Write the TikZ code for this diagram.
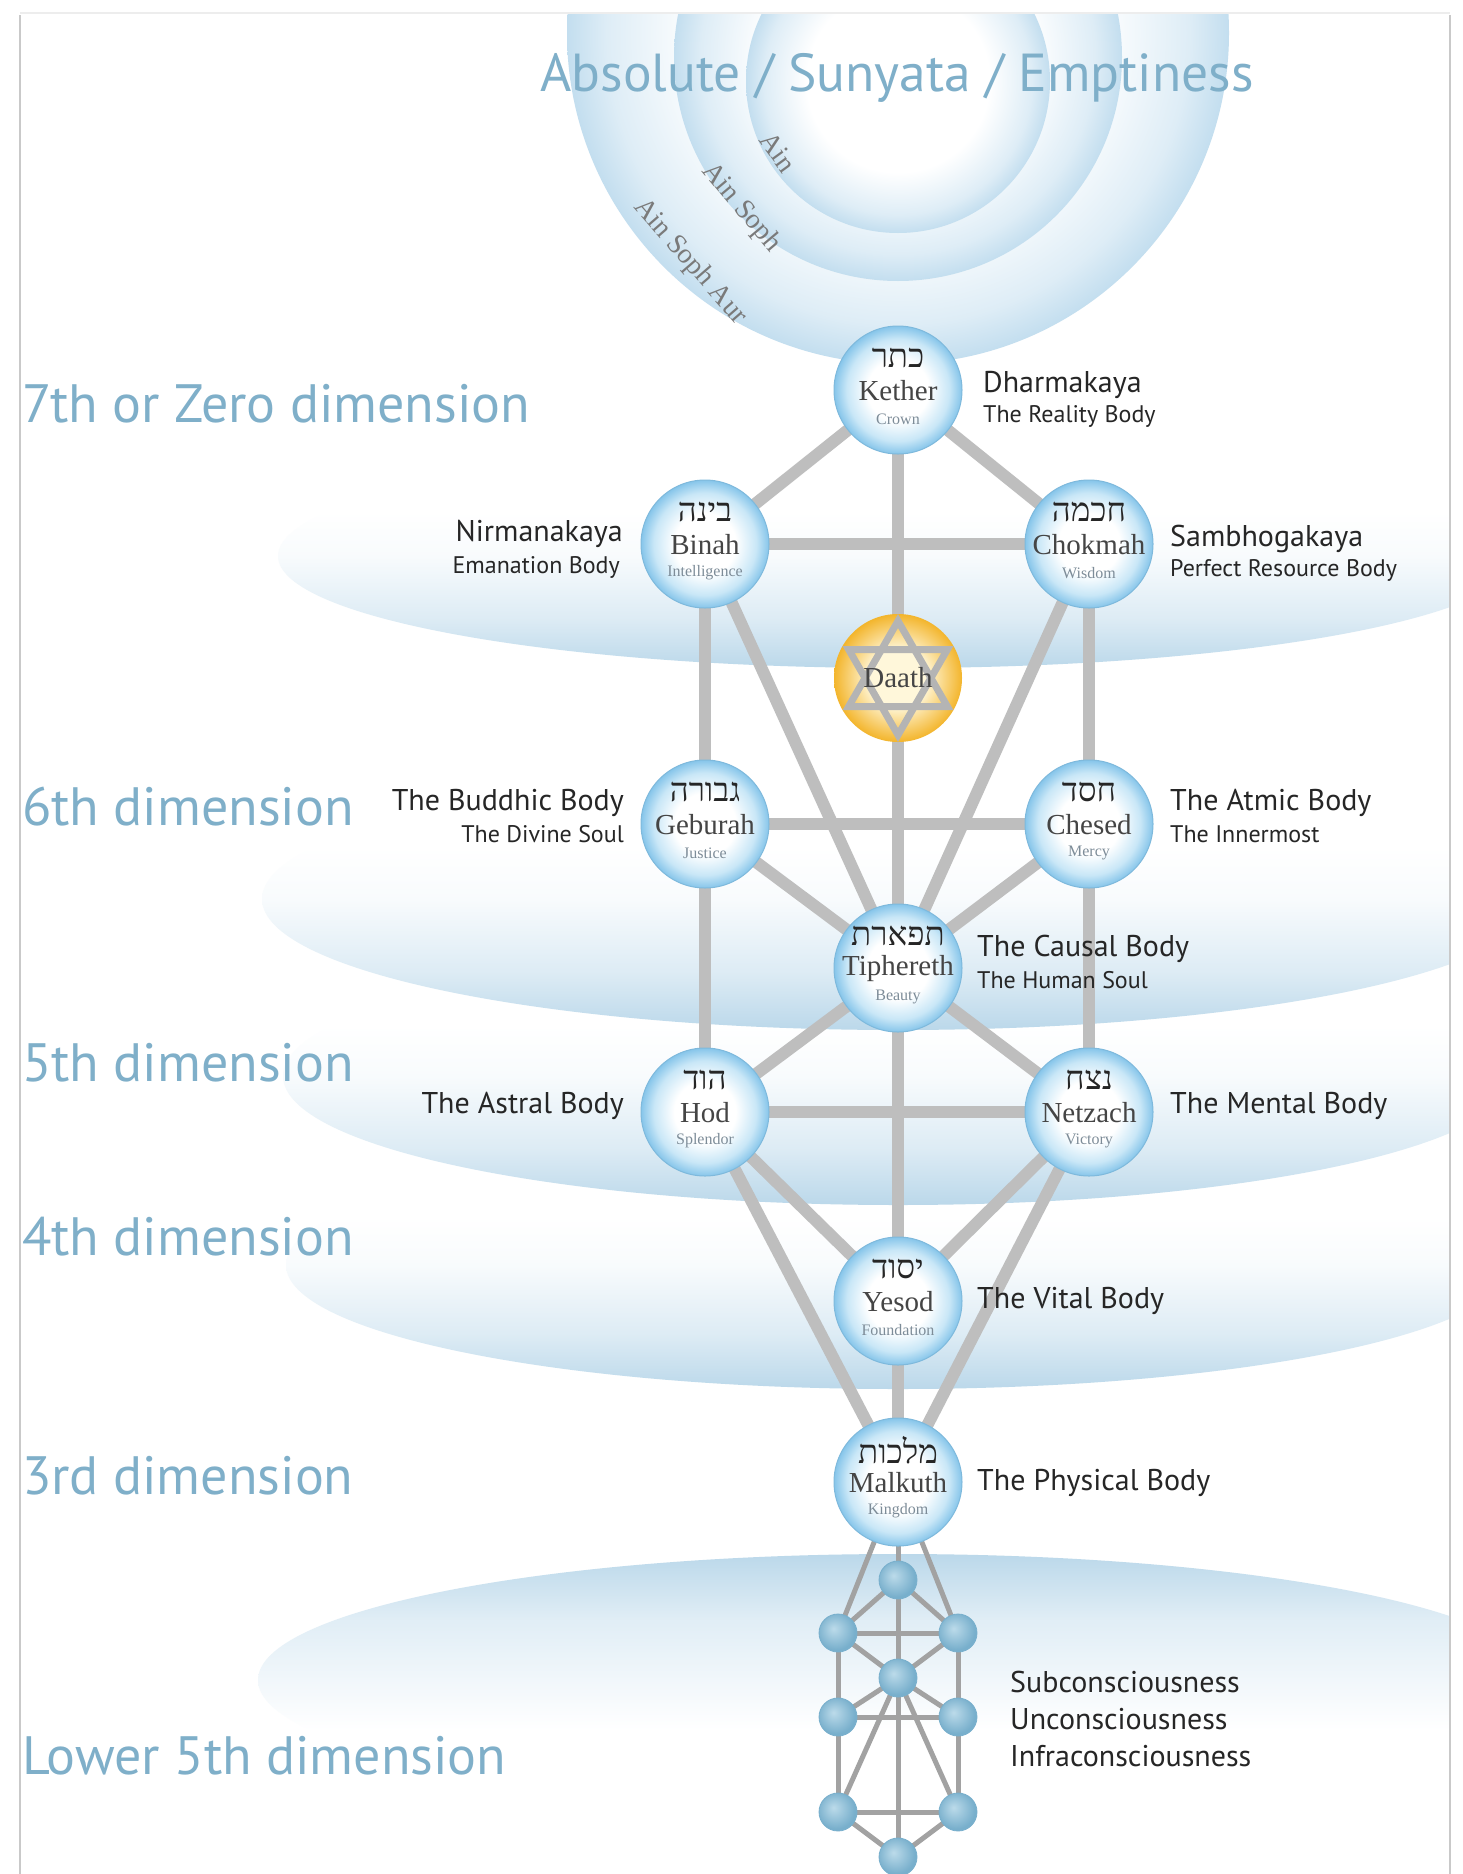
\documentclass[tikz,border=0pt]{standalone}
\usepackage{fontspec}
\setmainfont{Liberation Serif}
\newfontfamily\hebfont[Script=Hebrew]{Liberation Serif}
\newfontfamily\labfont{PT Sans}
\TeXXeTstate=1
\pgfdeclarelayer{bg}
\pgfdeclarelayer{lines}
\pgfsetlayers{bg,lines,main}
\definecolor{dimblue}{HTML}{7FAFC9}
\definecolor{pathgray}{HTML}{BEBEBE}
\definecolor{smallgray}{HTML}{A2A2A2}
\definecolor{sephrim}{HTML}{86C5EA}
\definecolor{sephmid}{HTML}{C9E7F7}
\definecolor{bandblue}{HTML}{BBD8EA}
\definecolor{circblue}{HTML}{C3DEEF}
\definecolor{goldout}{HTML}{F3B52C}
\definecolor{goldin}{HTML}{FFF7DA}
\definecolor{smallin}{HTML}{BCDBEA}
\definecolor{smallout}{HTML}{78AFCC}
\definecolor{textdark}{HTML}{262626}
\definecolor{namegray}{HTML}{454545}
\definecolor{subgray}{HTML}{7D8C98}
\definecolor{framegray}{HTML}{C9C9C9}
\definecolor{staredge}{HTML}{B4B4B4}
\definecolor{aingray}{HTML}{7A7A7A}
\pgfdeclareradialshading{sephshade}{\pgfpoint{0bp}{0bp}}{color(0bp)=(white); color(12bp)=(white); color(20bp)=(sephmid); color(25bp)=(sephrim); color(50bp)=(sephrim)}
\pgfdeclareradialshading{circshade}{\pgfpoint{0bp}{0bp}}{color(0bp)=(white); color(15bp)=(white); color(22bp)=(circblue!55!white); color(25bp)=(circblue); color(50bp)=(circblue)}
\pgfdeclareradialshading{daathshade}{\pgfpoint{0bp}{0bp}}{color(0bp)=(goldin); color(11bp)=(goldin); color(25bp)=(goldout); color(50bp)=(goldout)}
\pgfdeclareradialshading{smallshade}{\pgfpoint{-6bp}{6bp}}{color(0bp)=(smallin); color(25bp)=(smallout); color(50bp)=(smallout)}
\pgfdeclareverticalshading{bandshade}{100bp}{color(0bp)=(bandblue); color(25bp)=(bandblue); color(36bp)=(bandblue!50!white); color(50bp)=(bandblue!10!white); color(60bp)=(white); color(100bp)=(white)}
\pgfdeclareverticalshading{domeshade}{100bp}{color(0bp)=(white); color(40bp)=(white); color(62bp)=(bandblue!45!white); color(75bp)=(bandblue); color(100bp)=(bandblue)}
\tikzset{
  sephira/.style={circle, minimum size=128pt, inner sep=0pt, shade, shading=sephshade, draw=sephrim!90!black!60!sephrim, line width=1pt},
  daathnode/.style={circle, minimum size=128pt, inner sep=0pt, shade, shading=daathshade},
  smallnode/.style={circle, minimum size=38pt, inner sep=0pt, shade, shading=smallshade, draw=smallout, line width=0.8pt},
  hebtext/.style={inner sep=0pt, font=\hebfont\fontsize{33}{33}\selectfont, text=black!85},
  nametext/.style={inner sep=0pt, font=\fontsize{29}{29}\selectfont, text=namegray},
  subtext/.style={inner sep=0pt, font=\fontsize{16}{16}\selectfont, text=subgray},
  dimlabel/.style={inner sep=0pt, anchor=west, font=\labfont\fontsize{54}{60}\selectfont, text=dimblue},
  biglab/.style={inner sep=0pt, font=\labfont\fontsize{30}{31}\selectfont, text=textdark},
  smalllab/.style={inner sep=0pt, font=\labfont\fontsize{24}{25}\selectfont, text=textdark},
  ainlab/.style={inner sep=0pt, font=\fontsize{28}{28}\selectfont, text=aingray},
  treepath/.style={draw=pathgray, line width=12pt},
  minipath/.style={draw=smallgray, line width=5pt},
  starline/.style={draw=staredge, line width=7pt, line join=miter}
}
\newcommand\Sephira[6]{%
  \node[sephira] (#1) at (#2,-#3) {};
  \node[hebtext] (#1-heb) at ([yshift=32pt]#1.center) {\beginR #4\endR};
  \node[nametext] (#1-name) at ([yshift=-1pt]#1.center) {#5};
  \node[subtext] (#1-sub) at ([yshift=-29pt]#1.center) {#6};
}
\begin{document}
\begin{tikzpicture}[x=1pt,y=1pt]
\useasboundingbox (0,0) rectangle (1462,-1874);
\begin{pgfonlayer}{bg}
  \fill[white] (0,0) rectangle (1462,-1874);
  \begin{scope}
    \clip (20,-13) rectangle (1450,-1874);
    \shade[shading=domeshade] (898,-1680) ellipse [x radius=640, y radius=126];
    \shade[shading=bandshade] (898,-1265) ellipse [x radius=612, y radius=124];
    \shade[shading=bandshade] (898,-1076) ellipse [x radius=615, y radius=129];
    \shade[shading=bandshade] (898,-899) ellipse [x radius=636, y radius=131];
    \shade[shading=bandshade] (898,-556) ellipse [x radius=620, y radius=112];
    \shade[shading=circshade] (898,-33) circle [radius=331];
    \shade[shading=circshade] (898,-57) circle [radius=224];
    \shade[shading=circshade] (898,-81) circle [radius=152];
  \end{scope}
  \draw[framegray, line width=2pt] (20,-15) -- (20,-1874);
  \draw[framegray, line width=2pt] (1450,-15) -- (1450,-1874);
  \draw[black!7, line width=2pt] (20,-13) -- (1450,-13);
\end{pgfonlayer}

% titles and dimension labels
\node[inner sep=0pt, font=\labfont\fontsize{53.5}{60}\selectfont, text=dimblue] (absolute) at (897,-78) {Absolute / Sunyata / Emptiness};
\node[dimlabel] (dim7) at (22,-404) {7th or Zero dimension};
\node[dimlabel] (dim6) at (22,-807) {6th dimension};
\node[dimlabel] (dim5) at (22,-1063) {5th dimension};
\node[dimlabel] (dim4) at (22,-1237) {4th dimension};
\node[dimlabel] (dim3) at (22,-1476) {3rd dimension};
\node[dimlabel] (diml5) at (22,-1756) {Lower 5th dimension};

\node[ainlab, rotate=-54] (ain) at (778,-152) {Ain};
\node[ainlab, rotate=-50] (ainsoph) at (741,-208) {Ain Soph};
\node[ainlab, rotate=-49] (ainsophaur) at (690,-262) {Ain Soph Aur};

% sephirot
\Sephira{kether}{898}{390}{כתר}{Kether}{Crown}
\Sephira{binah}{705}{544}{בינה}{Binah}{Intelligence}
\Sephira{chokmah}{1089}{544}{חכמה}{Chokmah}{Wisdom}
\Sephira{geburah}{705}{824}{גבורה}{Geburah}{Justice}
\Sephira{chesed}{1089}{824}{חסד}{Chesed}{Mercy}
\Sephira{tiphereth}{898}{968}{תפארת}{Tiphereth}{Beauty}
\Sephira{hod}{705}{1112}{הוד}{Hod}{Splendor}
\Sephira{netzach}{1089}{1112}{נצח}{Netzach}{Victory}
\Sephira{yesod}{898}{1301}{יסוד}{Yesod}{Foundation}
\Sephira{malkuth}{898}{1482}{מלכות}{Malkuth}{Kingdom}

% Daath
\node[daathnode] (daath) at (898,-678) {};
\draw[starline] ([shift={(90:57)}]daath.center) -- ([shift={(210:57)}]daath.center) -- ([shift={(330:57)}]daath.center) -- cycle;
\draw[starline] ([shift={(270:57)}]daath.center) -- ([shift={(30:57)}]daath.center) -- ([shift={(150:57)}]daath.center) -- cycle;
\node[nametext] (daath-name) at (daath.center) {Daath};

% small tree
\node[smallnode] (st1) at (898,-1580) {};
\node[smallnode] (st2) at (838,-1633) {};
\node[smallnode] (st3) at (958,-1633) {};
\node[smallnode] (st4) at (898,-1678) {};
\node[smallnode] (st5) at (838,-1717) {};
\node[smallnode] (st6) at (958,-1717) {};
\node[smallnode] (st7) at (838,-1812) {};
\node[smallnode] (st8) at (958,-1812) {};
\node[smallnode] (st9) at (898,-1857) {};

% side labels
\node[biglab, anchor=west] (l1a) at (983,-385) {Dharmakaya};
\node[smalllab, anchor=west] (l1b) at (983,-416) {The Reality Body};
\node[biglab, anchor=east] (l2a) at (623,-534) {Nirmanakaya};
\node[smalllab, anchor=east] (l2b) at (620,-567) {Emanation Body};
\node[biglab, anchor=west] (l3a) at (1170,-539) {Sambhogakaya};
\node[smalllab, anchor=west] (l3b) at (1170,-570) {Perfect Resource Body};
\node[biglab, anchor=east] (l4a) at (624,-803) {The Buddhic Body};
\node[smalllab, anchor=east] (l4b) at (624,-834) {The Divine Soul};
\node[biglab, anchor=west] (l5a) at (1170,-803) {The Atmic Body};
\node[smalllab, anchor=west] (l5b) at (1170,-834) {The Innermost};
\node[biglab, anchor=west] (l6a) at (977,-949) {The Causal Body};
\node[smalllab, anchor=west] (l6b) at (977,-980) {The Human Soul};
\node[biglab, anchor=east] (l7) at (624,-1106) {The Astral Body};
\node[biglab, anchor=west] (l8) at (1170,-1106) {The Mental Body};
\node[biglab, anchor=west] (l9) at (977,-1301) {The Vital Body};
\node[biglab, anchor=west] (l10) at (977,-1483) {The Physical Body};
\node[biglab, anchor=west] (l11a) at (1010,-1682) {Subconsciousness};
\node[biglab, anchor=west] (l11b) at (1010,-1719) {Unconsciousness};
\node[biglab, anchor=west] (l11c) at (1010,-1756) {Infraconsciousness};

\begin{pgfonlayer}{lines}
  \foreach \a/\b in {kether/binah, kether/chokmah, kether/tiphereth, binah/chokmah, binah/geburah, binah/tiphereth, chokmah/chesed, chokmah/tiphereth, geburah/chesed, geburah/tiphereth, geburah/hod, chesed/tiphereth, chesed/netzach, tiphereth/hod, tiphereth/netzach, tiphereth/yesod, hod/netzach, hod/yesod, hod/malkuth, netzach/yesod, netzach/malkuth, yesod/malkuth}
    \draw[treepath] (\a.center) -- (\b.center);
  \foreach \a/\b in {malkuth/st1, malkuth/st2, malkuth/st3, st1/st2, st1/st3, st1/st4, st2/st3, st2/st4, st3/st4, st2/st5, st3/st6, st4/st5, st4/st6, st5/st6, st4/st7, st4/st8, st4/st9, st5/st7, st6/st8, st7/st8, st7/st9, st8/st9}
    \draw[minipath] (\a.center) -- (\b.center);
\end{pgfonlayer}
\end{tikzpicture}
\end{document}
